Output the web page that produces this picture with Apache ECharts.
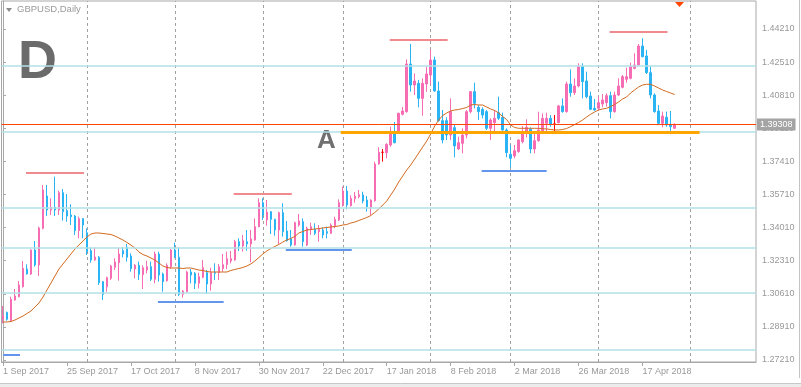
<!DOCTYPE html>
<html><head><meta charset="utf-8">
<script src="https://cdn.jsdelivr.net/npm/echarts@6/dist/echarts.min.js"></script>
<style>html,body{margin:0;padding:0;background:#fff}#c{width:801px;height:387px}</style>
</head><body><div id="c"></div>
<script>
const tickIdx = [0,16,32,48,64,80,96,112,128,144,160];
const tickLabels = ['1 Sep 2017','25 Sep 2017','17 Oct 2017','8 Nov 2017','30 Nov 2017','22 Dec 2017','17 Jan 2018','8 Feb 2018','2 Mar 2018','26 Mar 2018','17 Apr 2018'];
const monthStarts = [21,43,65,85,107,127,149,172];
const priceTicks = [1.27210,1.28910,1.30610,1.32310,1.34010,1.35710,1.37410,1.39110,1.40810,1.42510,1.44210];
const lastPrice = 1.39308;
// [open, close, low, high]
const ohlc = [
[1.29315,1.29487,1.29093,1.29983],[1.29658,1.29298,1.29230,1.29692],[1.29230,1.30325,1.29178,1.30462],[1.30291,1.30497,1.30257,1.30856],
[1.30462,1.31062,1.30428,1.31267],[1.30976,1.31918,1.30925,1.32294],[1.31883,1.31627,1.31610,1.32123],[1.31627,1.32859,1.31575,1.32893],
[1.32859,1.32089,1.32003,1.33321],[1.32089,1.33989,1.31524,1.34058],[1.33972,1.35941,1.33921,1.36198],[1.35633,1.34914,1.34605,1.36198],
[1.34914,1.35051,1.34657,1.35513],[1.35051,1.34914,1.34605,1.36626],[1.34914,1.35804,1.34657,1.35907],[1.35804,1.34828,1.34366,1.35992],
[1.34879,1.34605,1.34314,1.35735],[1.34657,1.34571,1.34143,1.35205],[1.34605,1.33852,1.33630,1.34657],[1.33852,1.34468,1.33458,1.34571],
[1.34468,1.34143,1.33458,1.34503],[1.33749,1.32774,1.32602,1.33972],[1.32825,1.32346,1.32209,1.32996],[1.32346,1.32500,1.32311,1.32979],
[1.32483,1.31181,1.31062,1.32551],[1.31233,1.30582,1.30291,1.31267],[1.30976,1.31438,1.30719,1.31490],[1.31404,1.32037,1.31318,1.32089],
[1.31969,1.32243,1.31832,1.32431],[1.32209,1.32654,1.31284,1.32979],[1.32825,1.32654,1.32483,1.32996],[1.32996,1.32483,1.32260,1.33167],
[1.32551,1.31900,1.31746,1.32688],[1.31883,1.32072,1.31404,1.32140],[1.32072,1.31610,1.31318,1.32260],[1.31592,1.31952,1.30856,1.32072],
[1.31832,1.32003,1.31661,1.32311],[1.32003,1.31353,1.31267,1.32260],[1.31353,1.32654,1.31147,1.32774],[1.32654,1.31575,1.31233,1.32774],
[1.31627,1.31233,1.30719,1.31695],[1.31284,1.32072,1.31233,1.32174],[1.32003,1.32859,1.31900,1.32911],[1.32859,1.32483,1.32431,1.33236],
[1.32483,1.30582,1.30497,1.32996],[1.30582,1.30753,1.30411,1.30805],[1.30719,1.31729,1.30668,1.31798],[1.31729,1.31575,1.31147,1.31883],
[1.31661,1.31147,1.30856,1.31729],[1.31147,1.31490,1.30890,1.31695],[1.31455,1.31952,1.31404,1.32346],[1.31695,1.31113,1.30599,1.31832],
[1.31113,1.31695,1.30770,1.31952],[1.31695,1.31661,1.31318,1.32174],[1.31695,1.32003,1.31318,1.32140],[1.31900,1.32106,1.31746,1.32654],
[1.32106,1.32414,1.31883,1.32774],[1.32294,1.32414,1.32174,1.32808],[1.32346,1.33287,1.32311,1.33373],[1.33287,1.33065,1.32808,1.33458],
[1.33065,1.33339,1.32774,1.33630],[1.33287,1.33167,1.32825,1.33887],[1.33167,1.33424,1.32226,1.33887],[1.33373,1.34058,1.33339,1.34486],
[1.34058,1.35290,1.34023,1.35513],[1.35290,1.34657,1.34400,1.35513],[1.34400,1.34811,1.34109,1.35427],[1.34828,1.34434,1.33681,1.34862],
[1.34434,1.33887,1.33595,1.34468],[1.33887,1.34777,1.33167,1.34828],[1.34777,1.33801,1.33544,1.35256],[1.33835,1.33339,1.33287,1.34349],
[1.33424,1.33116,1.33030,1.33887],[1.33116,1.34263,1.33082,1.34314],[1.34143,1.34349,1.34058,1.34708],[1.34314,1.33287,1.33030,1.34486],
[1.33116,1.33972,1.33065,1.34058],[1.33921,1.34058,1.33630,1.34263],[1.33921,1.33715,1.33630,1.34229],[1.33801,1.33921,1.33287,1.34143],
[1.33887,1.33630,1.33458,1.34023],[1.33801,1.33715,1.33458,1.34058],[1.33715,1.34143,1.33681,1.34229],[1.34109,1.34434,1.33972,1.34571],
[1.34400,1.35290,1.34349,1.35461],[1.35170,1.35889,1.35085,1.36112],[1.35889,1.35170,1.34948,1.36146],[1.35136,1.35513,1.35085,1.35667],
[1.35496,1.35633,1.35290,1.35838],[1.35598,1.35701,1.35513,1.35941],[1.35684,1.35376,1.35256,1.35855],[1.35427,1.35085,1.34828,1.35633],
[1.35051,1.35427,1.34657,1.35461],[1.35394,1.37277,1.35342,1.37397],[1.37277,1.37876,1.37243,1.38133],[1.37876,1.37876,1.37397,1.38047],
[1.37859,1.38287,1.37568,1.38338],[1.38253,1.38937,1.38167,1.39194],[1.38937,1.38372,1.38338,1.39434],[1.38903,1.39879,1.38852,1.39913],
[1.39828,1.39999,1.39776,1.40204],[1.39965,1.42413,1.39913,1.42652],[1.42413,1.41334,1.40992,1.43440],[1.41334,1.41540,1.40821,1.41933],
[1.41420,1.40649,1.40187,1.41591],[1.40649,1.41420,1.39759,1.41677],[1.41386,1.41899,1.40992,1.42276],[1.41848,1.42618,1.41334,1.43166],
[1.42618,1.41026,1.40992,1.42789],[1.41026,1.39502,1.39451,1.41505],[1.39502,1.38509,1.38338,1.40050],[1.39502,1.38766,1.38509,1.39674],
[1.38766,1.39965,1.38509,1.40649],[1.39143,1.38201,1.37619,1.39280],[1.38047,1.38372,1.37996,1.38681],[1.38338,1.38766,1.37825,1.39109],
[1.38766,1.39965,1.38595,1.40050],[1.39965,1.40992,1.39879,1.41026],[1.40992,1.40393,1.40136,1.41454],[1.40187,1.39965,1.39537,1.40307],
[1.40084,1.39793,1.39622,1.40187],[1.39965,1.39109,1.39023,1.40050],[1.39109,1.39537,1.38509,1.39622],[1.39400,1.39622,1.38818,1.40050],
[1.39913,1.39622,1.39537,1.40735],[1.39674,1.39023,1.38989,1.39913],[1.39023,1.37859,1.37619,1.39109],[1.37773,1.37568,1.37106,1.38253],
[1.37688,1.37961,1.37568,1.38253],[1.37910,1.38509,1.37859,1.38544],[1.38424,1.38886,1.38338,1.39228],[1.38852,1.39160,1.38646,1.39571],
[1.39057,1.38047,1.37825,1.39160],[1.38047,1.38475,1.37825,1.38852],[1.38475,1.39023,1.38424,1.39965],[1.38972,1.39622,1.38937,1.39879],
[1.39365,1.39622,1.38937,1.39913],[1.39622,1.39314,1.39194,1.39793],[1.39331,1.39331,1.38937,1.39793],[1.39400,1.40256,1.39365,1.40307],
[1.40256,1.39965,1.39913,1.40649],[1.39965,1.41386,1.39913,1.41505],[1.41386,1.40940,1.40735,1.42139],[1.40940,1.41283,1.40821,1.41677],
[1.41283,1.42276,1.41214,1.42447],[1.42276,1.41505,1.40649,1.42447],[1.41540,1.40735,1.40649,1.42019],[1.40769,1.40084,1.40050,1.40992],
[1.40136,1.40050,1.40016,1.40615],[1.40136,1.40427,1.40016,1.40735],[1.40358,1.40564,1.40187,1.40872],[1.40427,1.40786,1.40221,1.40906],
[1.40786,1.39965,1.39622,1.40992],[1.39965,1.40821,1.39913,1.40992],[1.40821,1.41283,1.40769,1.41677],[1.41214,1.41762,1.41163,1.41848],
[1.41625,1.41762,1.41454,1.42224],[1.41677,1.42276,1.41625,1.42481],[1.42190,1.42361,1.42139,1.42961],[1.42361,1.43337,1.42310,1.43440],
[1.43337,1.42789,1.42755,1.43731],[1.42824,1.41968,1.41899,1.43132],[1.41968,1.40821,1.40649,1.42276],[1.40821,1.39965,1.39913,1.40906],
[1.39999,1.39365,1.39280,1.40307],[1.39365,1.39742,1.39160,1.39965],[1.39674,1.39280,1.39194,1.39965],[1.39314,1.39194,1.38972,1.39999],
[1.39109,1.39308,1.39092,1.39365]
];
const ma = [
1.29161,1.29161,1.29187,1.29264,1.29367,1.29469,1.29598,1.29726,1.29932,1.30137,
1.30445,1.30805,1.31164,1.31524,1.31883,1.32140,1.32397,1.32654,1.32911,1.33116,
1.33321,1.33527,1.33681,1.33732,1.33732,1.33707,1.33681,1.33655,1.33578,1.33476,
1.33373,1.33244,1.33116,1.32962,1.32756,1.32628,1.32551,1.32448,1.32346,1.32192,
1.32037,1.31960,1.31935,1.31935,1.31935,1.31909,1.31935,1.31935,1.31883,1.31832,
1.31806,1.31755,1.31729,1.31729,1.31729,1.31729,1.31729,1.31806,1.31858,1.31909,
1.31960,1.32037,1.32140,1.32294,1.32474,1.32654,1.32808,1.32936,1.33039,1.33142,
1.33270,1.33373,1.33450,1.33553,1.33732,1.33809,1.33886,1.33912,1.33938,1.33963,
1.33989,1.34015,1.34041,1.34066,1.34092,1.34143,1.34169,1.34246,1.34297,1.34374,
1.34451,1.34528,1.34631,1.34785,1.34965,1.35170,1.35376,1.35684,1.35992,1.36352,
1.36660,1.36968,1.37225,1.37533,1.37841,1.38149,1.38458,1.38817,1.39228,1.39536,
1.39767,1.39896,1.39998,1.40050,1.40076,1.40127,1.40178,1.40307,1.40332,1.40307,
1.40307,1.40204,1.40101,1.40024,1.39896,1.39716,1.39562,1.39279,1.39151,1.39110,
1.39110,1.39110,1.39110,1.39110,1.39110,1.39089,1.39074,1.39048,1.39023,1.39023,
1.39048,1.39100,1.39192,1.39305,1.39408,1.39536,1.39690,1.39829,1.39947,1.40050,
1.40101,1.40137,1.40229,1.40332,1.40461,1.40615,1.40717,1.40923,1.41077,1.41231,
1.41334,1.41370,1.41370,1.41282,1.41180,1.41077,1.41000,1.40923,1.40846
];
const hLevels = [1.42310,1.38920,1.35052,1.32998,1.30676,1.27759];
// [startIndex, endIndex, price]
const resistSegs = [[5.75,20.25,1.36829],[57.7,72.25,1.35735],[96.75,111.25,1.43660],[151.75,166.25,1.44071]];
const supportSegs = [[0,4.25,1.27482],[38.75,55.2,1.30204],[70.75,87.25,1.32859],[119.75,136,1.36917]];
const levelA = [84.5,174.25,1.38884];

const FONT = 'Liberation Sans';
const X_MIN = -0.375, X_MAX = 188.375;
const chart = echarts.init(document.getElementById('c'), null, {renderer:'canvas'});

const seg = (x1, x2, y, ls, extra) => [Object.assign({coord:[x1, y], lineStyle:ls}, extra || {}), {coord:[x2, y]}];
const levelData = [];
hLevels.forEach(v => levelData.push(seg(X_MIN, X_MAX, v, {color:'#b0e0e6', width:1.5, type:'solid'})));
levelData.push(seg(levelA[0], levelA[1], levelA[2], {color:'#ffa500', width:3, type:'solid'}));
resistSegs.forEach(s => levelData.push(seg(s[0], s[1], s[2], {color:'#f08a8f', width:2, type:'solid'})));
supportSegs.forEach(s => levelData.push(seg(s[0], s[1], s[2], {color:'#6495ed', width:2, type:'solid'})));
levelData.push(seg(X_MIN, X_MAX, lastPrice, {color:'#ff4500', width:1, type:'solid'},
  {label:{show:true, position:'end', distance:1, formatter:lastPrice.toFixed(5), backgroundColor:'#a4a4a4', color:'#fff',
    padding:[2,3,1,3], fontSize:9, fontFamily:FONT}}));

chart.setOption({
  animation:false,
  backgroundColor:'#fff',
  grid:{left:1, top:1, right:45, bottom:25, show:true, borderColor:'#a8a8a8', borderWidth:1, backgroundColor:'transparent'},
  xAxis:{type:'value', min:X_MIN, max:X_MAX, position:'bottom',
    axisLine:{show:true, lineStyle:{color:'#a8a8a8'}},
    axisTick:{show:true, customValues:tickIdx, length:4, lineStyle:{color:'#a8a8a8'}},
    axisLabel:{show:true, customValues:tickIdx, align:'left', margin:5, color:'#999', fontSize:9, fontFamily:FONT,
      formatter:v => { const k = tickIdx.indexOf(Math.round(v)); return k>=0 ? tickLabels[k] : ''; }},
    splitLine:{show:false}},
  yAxis:{type:'value', position:'right', min:1.27107, max:1.45648, scale:true,
    axisLine:{show:true, lineStyle:{color:'#a8a8a8'}},
    axisTick:{show:true, customValues:priceTicks, length:3, lineStyle:{color:'#a8a8a8'}},
    axisLabel:{show:true, customValues:priceTicks, margin:6, color:'#999', fontSize:9, fontFamily:FONT,
      formatter:v => v.toFixed(5)},
    splitLine:{show:false}},
  series:[
    {type:'candlestick', z:2, barWidth:2,
      encode:{x:0, y:[1,2,3,4]},
      data: ohlc.map((d,i)=>[i, d[0], d[1], d[2], d[3]]),
      itemStyle:{color:'#f66db4', color0:'#2ab4f4', borderColor:'#f66db4', borderColor0:'#2ab4f4', borderColorDoji:'#ff0000', borderWidth:1},
      markLine:{silent:true, precision:5, symbol:['none','none'], z:5, animation:false, label:{show:false}, data:levelData}
    },
    {type:'line', z:3, showSymbol:false, symbol:'none',
      data: ma.map((v,i)=>[i,v]),
      lineStyle:{color:'#d2691e', width:1},
      markLine:{silent:true, precision:5, symbol:['none','none'], z:1, animation:false, label:{show:false},
        lineStyle:{color:'#a0a0a0', width:1, type:[3,3]},
        data: monthStarts.map(m => ({xAxis:m}))}
    }
  ],
  graphic:[
    {type:'polygon', shape:{points:[[6,8],[12,8],[9,12]]}, style:{fill:'#8c8c8c'}},
    {type:'text', left:17, top:4, style:{text:'GBPUSD,Daily', fill:'#9a9a9a', font:'9.5px "Liberation Sans"'}},
    {type:'text', x:18, y:63, style:{text:'D', fill:'#6b6b6b', font:'bold 54px "Liberation Sans"', verticalAlign:'middle'}},
    {type:'text', x:317, y:141, style:{text:'A', fill:'#707070', font:'bold 26px "Liberation Sans"', verticalAlign:'middle'}},
    {type:'polygon', shape:{points:[[675,2],[684,2],[679.5,7]]}, style:{fill:'#ff4500'}},
    {type:'line', shape:{x1:799.5, y1:0, x2:799.5, y2:378}, style:{stroke:'#c4c4c4', lineWidth:1}},
    {type:'rect', shape:{x:0, y:383, width:801, height:4}, style:{fill:'#ececec'}},
    {type:'line', shape:{x1:0, y1:383.5, x2:801, y2:383.5}, style:{stroke:'#c8c8c8', lineWidth:1}}
  ]
});
</script></body></html>
